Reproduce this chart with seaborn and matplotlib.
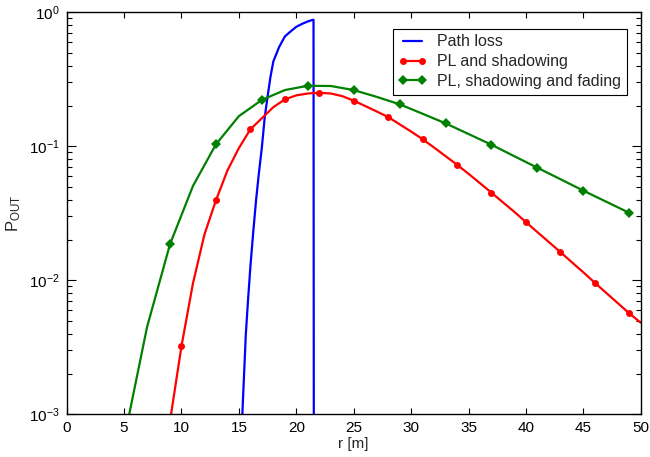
import numpy as np
import pandas as pd
import matplotlib
matplotlib.use("Agg")
import matplotlib.pyplot as plt
import seaborn as sns
from matplotlib.ticker import LogLocator, NullFormatter

# ---- data ----
r_pl = [15.2, 15.4, 15.6, 15.8, 16.0, 16.25, 16.5, 16.75, 17.0, 17.25, 17.5,
        17.75, 18.0, 18.5, 19.0, 19.5, 20.0, 20.5, 21.0, 21.4, 21.5, 21.55]
p_pl = [6.3e-4, 1.58e-3, 3.9e-3, 7.2e-3, 0.0126, 0.023, 0.040, 0.064, 0.098,
        0.165, 0.235, 0.33, 0.43, 0.55, 0.66, 0.72, 0.78, 0.82, 0.855, 0.877,
        0.88, 1e-6]

r_sh = list(range(9, 51))
p_sh = [8.9e-4, 3.23e-3, 9.5e-3, 0.022, 0.0395, 0.066, 0.097, 0.134, 0.162,
        0.196, 0.224, 0.24, 0.248, 0.251, 0.248, 0.237, 0.219, 0.20, 0.182,
        0.1655, 0.146, 0.129, 0.113, 0.098, 0.0845, 0.0729, 0.0624, 0.0531,
        0.0451, 0.0382, 0.0324, 0.0272, 0.0229, 0.0193, 0.01626, 0.01365,
        0.01148, 0.0096, 0.00805, 0.00676, 0.00568, 0.00483]

r_fd = list(range(5, 50, 2))
p_fd = [6.5e-4, 4.48e-3, 0.0186, 0.0506, 0.1035, 0.168, 0.222, 0.263, 0.283,
        0.282, 0.263, 0.234, 0.206, 0.175, 0.1485, 0.1236, 0.1028, 0.0843,
        0.0692, 0.0569, 0.0467, 0.0386, 0.0319]

labels = ["Path loss", "PL and shadowing", "PL, shadowing and fading"]
x_ticks = [0, 5, 10, 15, 20, 25, 30, 35, 40, 45, 50]

sns.set_style("ticks")
plt.rcParams['font.family'] = ['Liberation Sans', 'DejaVu Sans']
plt.rcParams['mathtext.default'] = 'regular'

fig = plt.figure(figsize=(6.5, 4.57), dpi=100)
ax = fig.add_axes([0.1026, 0.0934, 0.8831, 0.8796])

sns.lineplot(x=r_pl, y=p_pl, ax=ax, color='#0000ff', lw=1.6,
             label=labels[0], sort=False, estimator=None)
sns.lineplot(x=r_sh, y=p_sh, ax=ax, color='#ff0000', lw=1.6, marker='o',
             markersize=5, markeredgewidth=0, markevery=(1, 3),
             label=labels[1], sort=False, estimator=None)
sns.lineplot(x=r_fd, y=p_fd, ax=ax, color='#008000', lw=1.6, marker='D',
             markersize=5, markeredgewidth=0, markevery=(2, 2),
             label=labels[2], sort=False, estimator=None)

ax.set_yscale('log')
ax.set_xlim(0, 50)
ax.set_ylim(1e-3, 1)
ax.set_xticks(x_ticks)
ax.xaxis.set_minor_locator(plt.NullLocator())
ax.yaxis.set_major_locator(LogLocator(base=10, numticks=10))
ax.yaxis.set_minor_locator(LogLocator(base=10, subs=np.arange(2, 10), numticks=20))
ax.yaxis.set_minor_formatter(NullFormatter())

ax.tick_params(which='both', direction='in', top=True, right=True,
               labelsize=11, colors='black', width=0.8)
ax.tick_params(axis='x', which='major', length=4.5, pad=5)
ax.tick_params(axis='y', which='major', length=6.5, pad=5)
ax.tick_params(which='minor', length=3.5)
for s in ax.spines.values():
    s.set_linewidth(1.0)
    s.set_color('black')

ax.set_xlabel('r [m]', fontsize=11, labelpad=1)
ax.set_ylabel(r'P$_{OUT}$', fontsize=12, labelpad=4)

leg = ax.legend(loc='upper right', bbox_to_anchor=(0.976, 0.959),
                fontsize=11.5, frameon=True, fancybox=False, framealpha=1,
                edgecolor='black', borderpad=0.35, labelspacing=0.3,
                handlelength=1.8, handletextpad=0.65, numpoints=2,
                borderaxespad=0)
leg.get_frame().set_linewidth(0.8)
for h in leg.legend_handles:
    h.set_markevery(None)

fig.savefig('out.png', dpi=100)
